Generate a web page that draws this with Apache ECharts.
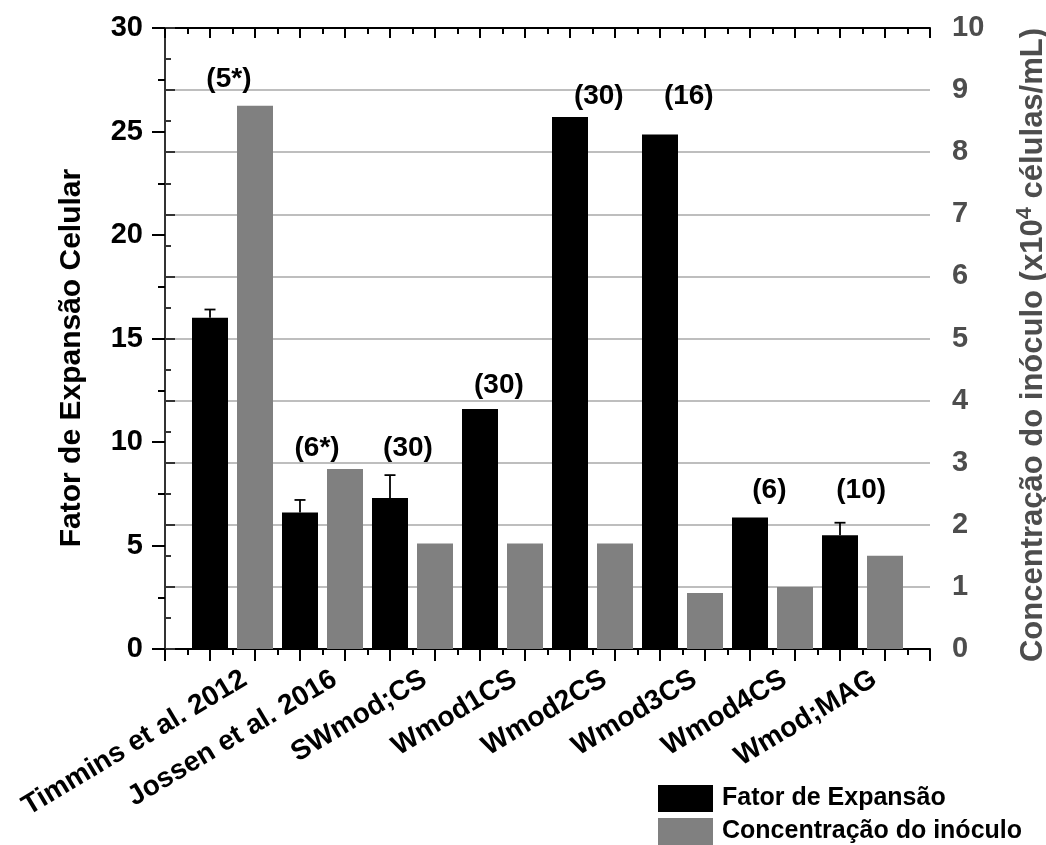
<!DOCTYPE html>
<html>
<head>
<meta charset="utf-8">
<script src="https://cdn.jsdelivr.net/npm/echarts@6/dist/echarts.min.js"></script>
<style>
  html, body { margin: 0; padding: 0; background: #ffffff; }
  #main { width: 1046px; height: 845px; }
</style>
</head>
<body>
<div id="main"></div>
<script>
// Categorias (amostras) e valores medidos
const categories = ['Timmins et al. 2012', 'Jossen et al. 2016', 'SWmod;CS', 'Wmod1CS', 'Wmod2CS', 'Wmod3CS', 'Wmod4CS', 'Wmod;MAG'];
const fatorExpansao = [16.0, 6.6, 7.3, 11.6, 25.7, 24.85, 6.35, 5.5];
const fatorErro = [0.4, 0.6, 1.1, null, null, null, null, 0.6];
const inoculo = [8.75, 2.9, 1.7, 1.7, 1.7, 0.9, 1.0, 1.5];
const notas = ['(5*)', '(6*)', '(30)', '(30)', '(30)', '(16)', '(6)', '(10)'];

// Eixos
const leftRange = { min: 0, max: 30, interval: 5 };
const rightRange = { min: 0, max: 10, interval: 1 };

// Posição das anotações (unidades dos eixos: x em posições de barra, y no eixo esquerdo)
const notaX = [1.42, 3.38, 5.4, 7.42, 9.64, 11.64, 13.43, 15.47];
const notaY = [27.54, 9.71, 9.71, 12.75, 26.71, 26.71, 7.68, 7.68];

const FONT = "'Liberation Sans', Arial, sans-serif";
const BLACK = '#000000';
const GRAY = '#808080';
const AXIS_GRAY = '#4d4d4d';

// Cada categoria ocupa duas posições no eixo x: barra preta em 2i+1, barra cinza em 2i+2
const xMax = categories.length * 2 + 1;
const serieFator = fatorExpansao.map((v, i) => [2 * i + 1, v]);
const serieInoculo = inoculo.map((v, i) => [2 * i + 2, v]);
const serieErro = fatorErro.map((e, i) => [2 * i + 1, fatorExpansao[i], e]).filter(d => d[2] != null);
const serieNotas = notas.map((t, i) => [notaX[i], notaY[i], t]);

const chart = echarts.init(document.getElementById('main'), null, { renderer: 'canvas' });

const frameX = {
  type: 'value', gridIndex: 0, min: 0, max: xMax, interval: 1,
  splitLine: { show: false },
  axisLabel: { show: false },
  axisLine: { show: true, onZero: false, lineStyle: { color: BLACK, width: 2 } }
};

chart.setOption({
  animation: false,
  textStyle: { fontFamily: FONT },
  grid: [
    { left: 165, right: 116, top: 28, bottom: 196, containLabel: false, outerBoundsMode: 'none' },
    { left: 199.5, right: 126.5, top: 28, bottom: 196, containLabel: false, outerBoundsMode: 'none' }
  ],
  legend: {
    orient: 'vertical', left: 658, top: 785, padding: 0,
    itemWidth: 55, itemHeight: 27, itemGap: 6, icon: 'rect',
    textStyle: { fontFamily: FONT, fontSize: 25, fontWeight: 'bold', color: BLACK, padding: [0, 0, 0, 4] },
    data: ['Fator de Expansão', 'Concentração do inóculo']
  },
  xAxis: [
    Object.assign({}, frameX, {
      position: 'bottom',
      axisTick: { show: true, inside: false, length: 12, lineStyle: { color: BLACK, width: 2 } },
      minorTick: { show: true, splitNumber: 2, length: 6, lineStyle: { color: BLACK, width: 2 } }
    }),
    Object.assign({}, frameX, {
      position: 'top',
      axisTick: { show: true, inside: true, length: 10, lineStyle: { color: BLACK, width: 2 } },
      minorTick: { show: true, splitNumber: 2, length: 6, lineStyle: { color: BLACK, width: 2 } }
    }),
    {
      type: 'category', gridIndex: 1, data: categories, boundaryGap: true,
      axisLine: { show: false }, axisTick: { show: false }, splitLine: { show: false },
      axisLabel: {
        interval: 0, rotate: 31, margin: 28,
        fontFamily: FONT, fontSize: 28, fontWeight: 'bold', color: BLACK
      }
    }
  ],
  yAxis: [
    {
      type: 'value', gridIndex: 0, position: 'left',
      min: leftRange.min, max: leftRange.max, interval: leftRange.interval,
      name: 'Fator de Expansão Celular', nameLocation: 'middle', nameRotate: 90, nameGap: 78,
      nameTextStyle: { fontFamily: FONT, fontSize: 30, fontWeight: 'bold', color: BLACK, padding: [0, 39, 0, 0] },
      axisLine: { show: true, lineStyle: { color: BLACK, width: 2 } },
      axisTick: { show: true, inside: false, length: 13, lineStyle: { color: BLACK, width: 2 } },
      minorTick: { show: true, splitNumber: 2, length: 7, lineStyle: { color: BLACK, width: 2 } },
      axisLabel: { margin: 22, fontFamily: FONT, fontSize: 29, fontWeight: 'bold', color: BLACK },
      splitLine: { show: false }
    },
    {
      type: 'value', gridIndex: 0, position: 'right',
      min: rightRange.min, max: rightRange.max, interval: rightRange.interval,
      name: '{t|Concentração do inóculo (x10}{sup|4}{t| células/mL)}',
      nameLocation: 'middle', nameRotate: 90, nameGap: 85,
      nameTextStyle: {
        color: AXIS_GRAY, padding: [0, 13, 0, 0],
        rich: {
          t: { fontFamily: FONT, fontSize: 31, fontWeight: 'bold', color: AXIS_GRAY, lineHeight: 36 },
          sup: { fontFamily: FONT, fontSize: 22, fontWeight: 'bold', color: AXIS_GRAY, lineHeight: 36, padding: [0, 0, 16, 0] }
        }
      },
      axisLine: { show: true, lineStyle: { color: '#333333', width: 2 } },
      axisTick: { show: true, inside: false, length: 10, lineStyle: { color: '#333333', width: 2 } },
      minorTick: { show: true, splitNumber: 2, length: 6, lineStyle: { color: '#333333', width: 2 } },
      axisLabel: { margin: 22, fontFamily: FONT, fontSize: 29, fontWeight: 'bold', color: AXIS_GRAY },
      splitLine: { show: true, lineStyle: { color: '#a8a8a8', width: 1.5 } }
    },
    { type: 'value', gridIndex: 1, show: false, min: 0, max: 1 }
  ],
  series: [
    {
      name: 'Fator de Expansão', type: 'bar', xAxisIndex: 0, yAxisIndex: 0,
      data: serieFator, barWidth: 36, barGap: '-100%',
      itemStyle: { color: BLACK }, z: 3
    },
    {
      name: 'Concentração do inóculo', type: 'bar', xAxisIndex: 0, yAxisIndex: 1,
      data: serieInoculo, barWidth: 36, barGap: '-100%',
      itemStyle: { color: GRAY }, z: 3
    },
    {
      // barras de erro (somente o lado superior)
      type: 'custom', xAxisIndex: 0, yAxisIndex: 0, z: 4, silent: true,
      data: serieErro,
      renderItem: function (params, api) {
        const x = api.value(0), v = api.value(1), e = api.value(2);
        const base = api.coord([x, v]);
        const top = api.coord([x, v + e]);
        const half = 5.5;
        const style = { stroke: BLACK, lineWidth: 1.8 };
        return {
          type: 'group',
          children: [
            { type: 'line', shape: { x1: top[0], y1: base[1], x2: top[0], y2: top[1] }, style: style },
            { type: 'line', shape: { x1: top[0] - half, y1: top[1], x2: top[0] + half, y2: top[1] }, style: style }
          ]
        };
      }
    },
    {
      // número de amostras acima de cada grupo
      type: 'custom', xAxisIndex: 0, yAxisIndex: 0, z: 5, silent: true,
      data: serieNotas,
      renderItem: function (params, api) {
        const p = api.coord([api.value(0), api.value(1)]);
        return {
          type: 'text', x: p[0], y: p[1],
          style: {
            text: serieNotas[params.dataIndex][2],
            fill: BLACK, align: 'center', verticalAlign: 'middle',
            font: "bold 28px 'Liberation Sans', Arial, sans-serif"
          }
        };
      }
    }
  ]
});
</script>
</body>
</html>
